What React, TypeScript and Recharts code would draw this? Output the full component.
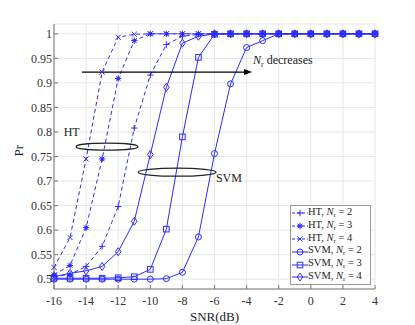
import React from 'react'
import {
  LineChart,
  Line,
  XAxis,
  YAxis,
  CartesianGrid,
  ReferenceLine,
  ReferenceDot,
} from 'recharts'

const snr = [-16, -15, -14, -13, -12, -11, -10, -9, -8, -7, -6, -5, -4, -3, -2, -1, 0, 1, 2, 3, 4]

const htNr2 = [0.505, 0.51, 0.526, 0.567, 0.648, 0.808, 0.916, 0.978, 0.995, 0.999, 1, 1, 1, 1, 1, 1, 1, 1, 1, 1, 1]
const htNr3 = [0.509, 0.528, 0.605, 0.745, 0.909, 0.986, 1, 1, 1, 1, 1, 1, 1, 1, 1, 1, 1, 1, 1, 1, 1]
const htNr4 = [0.524, 0.585, 0.745, 0.922, 0.993, 0.999, 1, 1, 1, 1, 1, 1, 1, 1, 1, 1, 1, 1, 1, 1, 1]
const svmNr2 = [0.5, 0.5, 0.5, 0.5, 0.5, 0.5, 0.5, 0.501, 0.514, 0.586, 0.756, 0.898, 0.972, 0.986, 1, 1, 1, 1, 1, 1, 1]
const svmNr3 = [0.502, 0.502, 0.502, 0.502, 0.503, 0.505, 0.52, 0.602, 0.79, 0.952, 0.999, 1, 1, 1, 1, 1, 1, 1, 1, 1, 1]
const svmNr4 = [0.505, 0.512, 0.517, 0.526, 0.556, 0.618, 0.754, 0.891, 0.981, 0.995, 1, 1, 1, 1, 1, 1, 1, 1, 1, 1, 1]

const xTicks = [-16, -14, -12, -10, -8, -6, -4, -2, 0, 2, 4]
const yTicks = [0.5, 0.55, 0.6, 0.65, 0.7, 0.75, 0.8, 0.85, 0.9, 0.95, 1]

const BLUE = '#2b2bff'
const FONT = '"Liberation Serif", "DejaVu Serif", serif'

type Shape = 'plus' | 'star' | 'cross' | 'circle' | 'square' | 'diamond'

const series: Array<{ key: string; nr: number; method: string; shape: Shape; dashed: boolean }> = [
  { key: 'ht2', nr: 2, method: 'HT', shape: 'plus', dashed: true },
  { key: 'ht3', nr: 3, method: 'HT', shape: 'star', dashed: true },
  { key: 'ht4', nr: 4, method: 'HT', shape: 'cross', dashed: true },
  { key: 'svm2', nr: 2, method: 'SVM', shape: 'circle', dashed: false },
  { key: 'svm3', nr: 3, method: 'SVM', shape: 'square', dashed: false },
  { key: 'svm4', nr: 4, method: 'SVM', shape: 'diamond', dashed: false },
]

const data = snr.map((x, i) => ({
  snr: x,
  ht2: htNr2[i],
  ht3: htNr3[i],
  ht4: htNr4[i],
  svm2: svmNr2[i],
  svm3: svmNr3[i],
  svm4: svmNr4[i],
}))

function Marker({ shape, cx, cy }: { shape: Shape; cx: number; cy: number }) {
  const s = 3.2
  const common = { stroke: BLUE, strokeWidth: 1, fill: 'none' }
  if (shape === 'plus')
    return <path d={`M${cx - s},${cy}H${cx + s}M${cx},${cy - s}V${cy + s}`} {...common} />
  if (shape === 'cross')
    return <path d={`M${cx - 2.6},${cy - 2.6}L${cx + 2.6},${cy + 2.6}M${cx - 2.6},${cy + 2.6}L${cx + 2.6},${cy - 2.6}`} {...common} />
  if (shape === 'star')
    return (
      <g>
        <path d={`M${cx - s},${cy}H${cx + s}M${cx},${cy - s}V${cy + s}M${cx - 2.3},${cy - 2.3}L${cx + 2.3},${cy + 2.3}M${cx - 2.3},${cy + 2.3}L${cx + 2.3},${cy - 2.3}`} {...common} />
        <circle cx={cx} cy={cy} r={1.6} fill={BLUE} />
      </g>
    )
  if (shape === 'circle') return <circle cx={cx} cy={cy} r={3} {...common} />
  if (shape === 'square') return <rect x={cx - 2.8} y={cy - 2.8} width={5.6} height={5.6} {...common} />
  return <path d={`M${cx},${cy - 4}L${cx + 2.8},${cy}L${cx},${cy + 4}L${cx - 2.8},${cy}Z`} {...common} />
}

function LegendBox() {
  return (
    <div
      style={{
        position: 'absolute',
        left: 290,
        top: 205,
        width: 81,
        height: 80,
        border: '1px solid #999',
        background: '#fff',
        boxSizing: 'border-box',
        fontFamily: FONT,
        fontSize: 10.5,
        color: '#222',
        padding: '1px 0 0 1px',
        overflow: 'hidden',
      }}
    >
      {series.map((s) => (
        <div key={s.key} style={{ display: 'flex', alignItems: 'center', height: 12.8, lineHeight: '12px', whiteSpace: 'nowrap' }}>
          <svg width={16} height={12} style={{ flex: 'none' }}>
            <line x1={0} y1={6} x2={16} y2={6} stroke={BLUE} strokeDasharray={s.dashed ? '3 2' : undefined} />
            <Marker shape={s.shape} cx={8} cy={6} />
          </svg>
          <span>
            {s.method}, <i>N</i>
            <span style={{ fontSize: 7, verticalAlign: -2 }}>r</span> = {s.nr}
          </span>
        </div>
      ))}
    </div>
  )
}

export default function App() {
  return (
    <div style={{ position: 'absolute', left: 0, top: 0, width: 415, height: 325, background: '#fff', fontFamily: FONT }}>
      <LineChart
        width={415}
        height={325}
        data={data}
        margin={{ top: 24, right: 40, bottom: 6, left: 14 }}
        style={{ fontFamily: FONT }}
      >
        <CartesianGrid stroke="#e6e6e6" strokeWidth={1} />
        <XAxis
          dataKey="snr"
          type="number"
          domain={[-16, 4]}
          ticks={xTicks}
          height={30}
          stroke="#777"
          tickSize={-4}
          tickMargin={11}
          tick={{ fill: '#333', fontSize: 12, fontFamily: FONT }}
          label={{ value: 'SNR(dB)', position: 'insideBottom', offset: -2, fill: '#222', fontSize: 13, fontFamily: FONT }}
        />
        <XAxis xAxisId="top" dataKey="snr" type="number" domain={[-16, 4]} ticks={xTicks} orientation="top" height={0} stroke="#777" tickSize={-4} tick={false} />
        <YAxis
          type="number"
          domain={[0.48, 1.02]}
          ticks={yTicks}
          width={40}
          stroke="#777"
          tickSize={-4}
          tickMargin={6}
          tickFormatter={(v: number) => String(Number(v.toFixed(2)))}
          tick={{ fill: '#333', fontSize: 12, fontFamily: FONT }}
          label={{ value: 'Pr', angle: -90, position: 'insideLeft', offset: 4, fill: '#222', fontSize: 13, fontFamily: FONT }}
        />
        <YAxis yAxisId="right" type="number" domain={[0.48, 1.02]} ticks={yTicks} orientation="right" width={0} stroke="#777" tickSize={-4} tick={false} />

        {series.map((s) => (
          <Line
            key={s.key}
            dataKey={s.key}
            stroke={BLUE}
            strokeWidth={1}
            strokeDasharray={s.dashed ? '4 3' : undefined}
            isAnimationActive={false}
            dot={(p: any) => <Marker key={`${s.key}-${p.index}`} shape={s.shape} cx={p.cx} cy={p.cy} />}
            activeDot={false}
          />
        ))}

        <ReferenceLine
          segment={[
            { x: -14.26, y: 0.922 },
            { x: -3.66, y: 0.922 },
          ]}
          shape={(p: any) => (
            <g>
              <line x1={p.x1} y1={p.y1} x2={p.x2 - 6} y2={p.y2} stroke="#000" strokeWidth={1.2} />
              <path d={`M${p.x2},${p.y2}L${p.x2 - 8},${p.y2 - 3}L${p.x2 - 8},${p.y2 + 3}Z`} fill="#000" />
            </g>
          )}
        />
        <ReferenceDot
          x={-3.6}
          y={0.946}
          r={0}
          shape={(p: any) => (
            <text x={p.cx} y={p.cy + 4} fontFamily={FONT} fontSize={12} fill="#222">
              <tspan fontStyle="italic">N</tspan>
              <tspan fontSize={8} dy={3}>r</tspan>
              <tspan dy={-3}> decreases</tspan>
            </text>
          )}
        />
        <ReferenceDot
          x={-12.7}
          y={0.77}
          r={0}
          shape={(p: any) => <ellipse cx={p.cx} cy={p.cy} rx={31} ry={3.5} fill="none" stroke="#222" strokeWidth={1.2} />}
        />
        <ReferenceDot
          x={-14.9}
          y={0.8}
          r={0}
          shape={(p: any) => (
            <text x={p.cx} y={p.cy + 4} textAnchor="middle" fontFamily={FONT} fontSize={12} fill="#222">
              HT
            </text>
          )}
        />
        <ReferenceDot
          x={-8.33}
          y={0.718}
          r={0}
          shape={(p: any) => <ellipse cx={p.cx} cy={p.cy} rx={39} ry={4} fill="none" stroke="#222" strokeWidth={1.2} />}
        />
        <ReferenceDot
          x={-5.1}
          y={0.707}
          r={0}
          shape={(p: any) => (
            <text x={p.cx} y={p.cy + 4} textAnchor="middle" fontFamily={FONT} fontSize={12} fill="#222">
              SVM
            </text>
          )}
        />
      </LineChart>
      <LegendBox />
    </div>
  )
}
